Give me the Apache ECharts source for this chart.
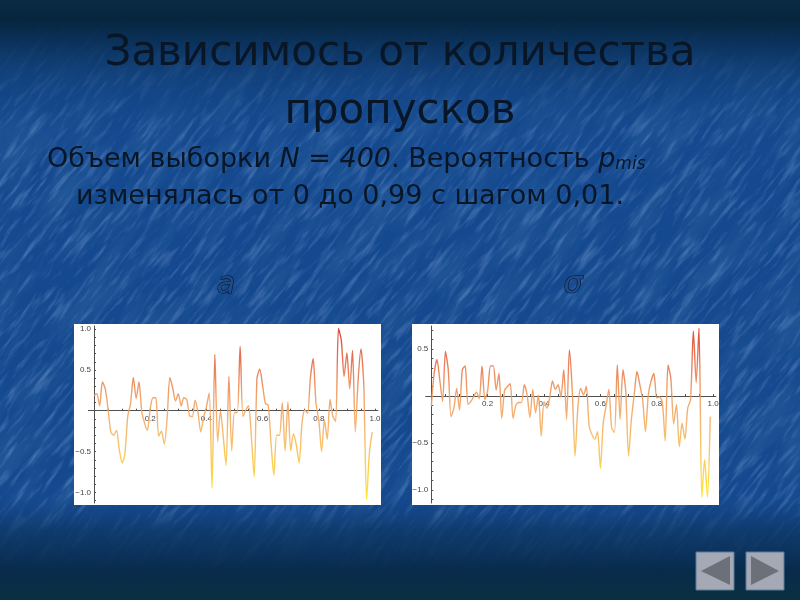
<!DOCTYPE html>
<html><head><meta charset="utf-8">
<script src="https://cdn.jsdelivr.net/npm/echarts@6/dist/echarts.min.js"></script>
<style>
html,body{margin:0;padding:0;width:800px;height:600px;overflow:hidden;background:#14488c}
#bg{position:absolute;left:0;top:0}
#c{position:absolute;left:0;top:0;width:800px;height:600px;filter:blur(0.45px)}
</style></head><body>
<svg id="bg" width="800" height="600" xmlns="http://www.w3.org/2000/svg">
<defs>
<filter id="t" x="0" y="0" width="100%" height="100%">
<feTurbulence type="fractalNoise" baseFrequency="0.03 0.2" numOctaves="4" seed="7"/>
<feColorMatrix type="matrix" values="0 0 0 0 0.42  0 0 0 0 0.6  0 0 0 0 0.95  2.6 0 0 0 -1.3"/>
</filter>
<filter id="d" x="0" y="0" width="100%" height="100%">
<feTurbulence type="fractalNoise" baseFrequency="0.012 0.05" numOctaves="4" seed="21"/>
<feColorMatrix type="matrix" values="0 0 0 0 0.03  0 0 0 0 0.14  0 0 0 0 0.36  1.8 0 0 0 -0.7"/>
</filter>
<linearGradient id="v" x1="0" y1="0" x2="0" y2="1">
<stop offset="0" stop-color="#0a2a44" stop-opacity="1"/>
<stop offset="0.033" stop-color="#06243c" stop-opacity="0.98"/>
<stop offset="0.075" stop-color="#0a3058" stop-opacity="0.9"/>
<stop offset="0.13" stop-color="#0f3c72" stop-opacity="0.6"/>
<stop offset="0.23" stop-color="#14488c" stop-opacity="0"/>
<stop offset="0.825" stop-color="#114080" stop-opacity="0"/>
<stop offset="0.883" stop-color="#0c3562" stop-opacity="0.75"/>
<stop offset="0.95" stop-color="#082a4a" stop-opacity="0.97"/>
<stop offset="1" stop-color="#0a3040" stop-opacity="1"/>
</linearGradient>
</defs>
<rect width="800" height="600" fill="#15498f"/>
<g transform="rotate(-52 400 300)">
<rect x="-300" y="-300" width="1400" height="1200" filter="url(#d)" opacity="0.5"/>
<rect x="-300" y="-300" width="1400" height="1200" filter="url(#t)" opacity="0.3"/>
</g>
<rect width="800" height="600" fill="url(#v)"/>
</svg>
<div id="c"></div>
<script>
var titleLine1 = 'Зависимось от количества';
var titleLine2 = 'пропусков';
var tickX = [0.2, 0.4, 0.6, 0.8, 1.0];
var tickXMinor = [0.05,0.1,0.15,0.2,0.25,0.3,0.35,0.4,0.45,0.5,0.55,0.6,0.65,0.7,0.75,0.8,0.85,0.9,0.95,1.0];
var tickYLeft = [-1, -0.5, 0.5, 1];
var tickYRight = [-1, -0.5, 0.5];
var tickYMinorLeft = [-1.1,-1,-0.9,-0.8,-0.7,-0.6,-0.5,-0.4,-0.3,-0.2,-0.1,0.1,0.2,0.3,0.4,0.5,0.6,0.7,0.8,0.9,1];
var tickYMinorRight = [-1.1,-1,-0.9,-0.8,-0.7,-0.6,-0.5,-0.4,-0.3,-0.2,-0.1,0.1,0.2,0.3,0.4,0.5,0.6,0.7];
var pmis = [0,0.01,0.02,0.03,0.04,0.05,0.06,0.07,0.08,0.09,0.1,0.11,0.12,0.13,0.14,0.15,0.16,0.17,0.18,0.19,
0.2,0.21,0.22,0.23,0.24,0.25,0.26,0.27,0.28,0.29,0.3,0.31,0.32,0.33,0.34,0.35,0.36,0.37,0.38,0.39,
0.4,0.41,0.42,0.43,0.44,0.45,0.46,0.47,0.48,0.49,0.5,0.51,0.52,0.53,0.54,0.55,0.56,0.57,0.58,0.59,
0.6,0.61,0.62,0.63,0.64,0.65,0.66,0.67,0.68,0.69,0.7,0.71,0.72,0.73,0.74,0.75,0.76,0.77,0.78,0.79,
0.8,0.81,0.82,0.83,0.84,0.85,0.86,0.87,0.88,0.89,0.9,0.91,0.92,0.93,0.94,0.95,0.96,0.97,0.98,0.99];
var errA = [0.19,0.21,0.06,0.355,0.27,0.02,-0.26,-0.3,-0.24,-0.48,-0.64,-0.52,-0.07,0.09,0.41,0.15,0.355,-0.01,-0.15,-0.24,
0.03,0.16,0.16,-0.31,-0.25,-0.41,-0.1,0.41,0.28,0.12,0.21,0.06,0.16,0.14,-0.06,-0.07,0.13,-0.02,-0.26,-0.08,
0.05,0.22,-0.95,0.69,-0.38,0,-0.32,-0.67,0.42,-0.49,-0.02,-0.02,0.79,-0.07,0.01,0.06,-0.32,-0.81,0.4,0.51,
0.31,0.09,0.07,-0.4,-0.79,-0.3,-0.3,0.1,-0.49,0.11,-0.49,-0.28,-0.42,-0.64,-0.16,0.01,-0.03,0.4,0.64,0.09,
-0.11,-0.5,-0.11,-0.35,0.14,-0.07,-0.13,1.01,0.87,0.42,0.71,0.27,0.74,-0.26,0.38,0.76,0.33,-1.09,-0.52,-0.26];
var errS = [-0.11,0.24,0.39,0.17,-0.06,0.475,0.28,-0.22,-0.13,0.08,-0.15,0.28,0.32,-0.09,-0.06,-0.01,0.04,-0.03,0.32,-0.04,
0.06,0.32,0.32,0.06,0.24,-0.24,0.06,0.1,0.13,-0.24,-0.1,-0.07,-0.07,0.12,0.01,-0.23,0.07,-0.18,0.01,-0.43,
-0.06,-0.13,-0.02,0.16,0.07,0.12,-0.01,0.28,-0.25,0.49,0.07,-0.64,-0.13,0.08,0.01,0.1,-0.32,-0.41,-0.46,-0.38,
-0.77,-0.29,-0.11,0.07,-0.34,-0.39,0.33,-0.25,0.28,0.05,-0.64,-0.25,0.01,0.26,0.12,-0.04,-0.38,0.01,0.16,0.24,
-0.02,-0.01,-0.07,-0.48,0.33,0.19,-0.3,-0.09,-0.54,-0.29,-0.46,-0.13,-0.04,0.69,0.14,0.72,-1.08,-0.68,-1.08,-0.22];

function zip(xs, ys){ return xs.map(function(x,i){ return [x, ys[i]]; }); }
var axisCol = '#505050', labelCol = '#444';
var fmt = function(v){ return (v<0?'\u2212':'') + Math.abs(v).toFixed(1); };
function xAxis(i,off){ return {
  type:'value', gridIndex:i, min:-0.02, max:1.01, position:'bottom', offset:off,
  splitLine:{show:false},
  axisLine:{onZero:false, lineStyle:{color:axisCol,width:1}},
  axisTick:{show:true, inside:true, length:2, customValues:tickXMinor, lineStyle:{color:axisCol}},
  axisLabel:{customValues:tickX, margin:4, fontSize:8, fontFamily:'Liberation Sans', color:labelCol, formatter:fmt, showMinLabel:true, showMaxLabel:true}
};}
function yAxis(i,mn,mx,lab,mins){ return {
  type:'value', gridIndex:i, min:mn, max:mx, position:'left', offset:-5.6,
  splitLine:{show:false},
  axisLine:{onZero:false, lineStyle:{color:axisCol,width:1}},
  axisTick:{show:true, inside:true, length:2, customValues:mins, lineStyle:{color:axisCol}},
  axisLabel:{customValues:lab, margin:3, fontSize:8, fontFamily:'Liberation Sans', color:labelCol, formatter:fmt}
};}
function series(i,ys){ return {
  type:'line', xAxisIndex:i, yAxisIndex:i, data:zip(pmis,ys), showSymbol:false, symbol:'none', smooth:0.25,
  lineStyle:{width:1.4, opacity:0.92}, z:3
};}
var ramp = ['#ffe61e','#fbcc40','#f5b468','#f09e60','#e8704a','#d83a28'];
var slideFont = '"DejaVu Sans"';
var txtCol = '#081626';
function tx(s){ return {type:'text', silent:true, z:20, style:s}; }
var option = {
  animation:false,
  backgroundColor:'transparent',
  grid:[
    {left:88.4, top:326, width:289.4, height:177},
    {left:425.7, top:326, width:290.2, height:177}
  ],
  xAxis:[xAxis(0,-92.3),xAxis(1,-107)],
  yAxis:[yAxis(0,-1.13,1.04,tickYLeft,tickYMinorLeft), yAxis(1,-1.14,0.745,tickYRight,tickYMinorRight)],
  visualMap:[
    {type:'continuous', show:false, seriesIndex:0, dimension:1, min:-1.1, max:1.0, inRange:{color:ramp}},
    {type:'continuous', show:false, seriesIndex:1, dimension:1, min:-1.1, max:0.75, inRange:{color:ramp}}
  ],
  series:[series(0,errA),series(1,errS)],
  graphic:[
    {type:'rect', z:-10, silent:true, shape:{x:74,y:324,width:307,height:181}, style:{fill:'#fff'}},
    {type:'rect', z:-10, silent:true, shape:{x:412,y:324,width:307,height:181}, style:{fill:'#fff'}},
    tx({x:400,y:54,text:titleLine1,textAlign:'center',textVerticalAlign:'middle',fill:txtCol,font:'42px '+slideFont}),
    tx({x:400,y:112,text:titleLine2,textAlign:'center',textVerticalAlign:'middle',fill:txtCol,font:'42px '+slideFont}),
    tx({x:47,y:160,textVerticalAlign:'middle',fill:txtCol,font:'27px '+slideFont,
      text:'{r|Объем выборки }{i|N = 400}{r|. Вероятность }{i|p}{s|mis}',
      rich:{r:{font:'27px '+slideFont,fill:txtCol},i:{font:'italic 27px '+slideFont,fill:txtCol},s:{font:'italic 17px '+slideFont,fill:txtCol,padding:[10,0,0,0]}}}),
    tx({x:76,y:197,textVerticalAlign:'middle',fill:txtCol,font:'27px '+slideFont,text:'изменялась от 0 до 0,99 с шагом 0,01.'}),
    tx({x:226,y:285,text:'a',textAlign:'center',textVerticalAlign:'middle',fill:'#1f4c88',stroke:'#061428',lineWidth:1.2,font:'italic 30px "DejaVu Sans"'}),
    tx({x:573,y:285,text:'σ',textAlign:'center',textVerticalAlign:'middle',fill:'#1f4c88',stroke:'#061428',lineWidth:1.2,font:'italic 30px "DejaVu Sans"'}),
    {type:'rect', silent:true, shape:{x:696,y:552,width:38,height:38}, style:{fill:'#a5a9b5',stroke:'#5a7a96',lineWidth:1}},
    {type:'polygon', silent:true, shape:{points:[[701,571],[730,556],[730,585]]}, style:{fill:'#6c7079'}},
    {type:'rect', silent:true, shape:{x:746,y:552,width:38,height:38}, style:{fill:'#a5a9b5',stroke:'#5a7a96',lineWidth:1}},
    {type:'polygon', silent:true, shape:{points:[[751,556],[751,585],[779,571]]}, style:{fill:'#6c7079'}}
  ]
};
var chart = echarts.init(document.getElementById('c'), null, {renderer:'canvas', width:800, height:600});
chart.setOption(option);
</script>
</body></html>
